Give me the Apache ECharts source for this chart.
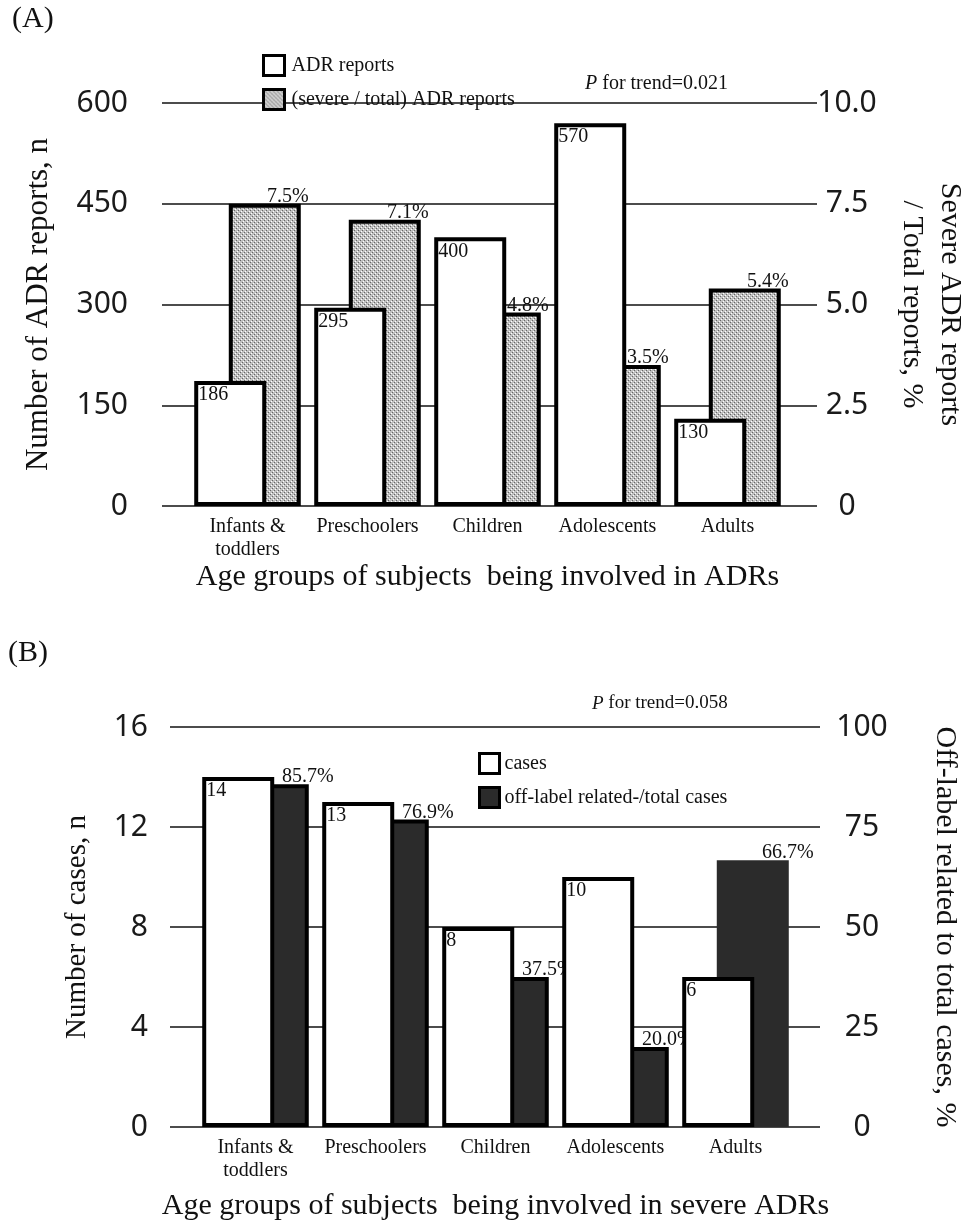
<!DOCTYPE html>
<html>
<head>
<meta charset="utf-8">
<script src="https://cdn.jsdelivr.net/npm/echarts@6/dist/echarts.min.js"></script>
<style>
html,body{margin:0;padding:0;background:#fff;}
#chart{width:977px;height:1228px;}
</style>
</head>
<body>
<div id="chart"></div>
<script>
// ---- data ----
const categories = ['Infants &\ntoddlers', 'Preschoolers', 'Children', 'Adolescents', 'Adults'];
const adrReports = [186, 295, 400, 570, 130];          // panel A, left axis (n)
const severeShare = [7.5, 7.1, 4.8, 3.5, 5.4];         // panel A, right axis (%)
const severeCases = [14, 13, 8, 10, 6];                // panel B, left axis (n)
const offLabelShare = [85.7, 76.9, 37.5, 20.0, 66.7];  // panel B, right axis (%)
const ticksALeft = [0, 150, 300, 450, 600];
const ticksARight = [0, 2.5, 5.0, 7.5, 10.0];
const ticksBLeft = [0, 4, 8, 12, 16];
const ticksBRight = [0, 25, 50, 75, 100];

const SERIF = '"Liberation Serif", "Times New Roman", serif';
const SANS = '"Noto Sans", sans-serif';

// hatched fill pattern
function makePattern() {
  const c = document.createElement('canvas');
  c.width = 4; c.height = 4;
  const g = c.getContext('2d');
  g.fillStyle = '#c0c0c0'; g.fillRect(0, 0, 4, 4);
  g.fillStyle = '#666666'; g.fillRect(0, 0, 1, 1); g.fillRect(2, 2, 1, 1);
  g.fillStyle = '#ffffff'; g.fillRect(1, 3, 1, 1); g.fillRect(3, 1, 1, 1);
  return { image: c, repeat: 'repeat' };
}
const hatch = makePattern();

function fmtRight(v) { return v === 0 ? '0' : v.toFixed(1); }

const chart = echarts.init(document.getElementById('chart'), null, { renderer: 'canvas' });

const gridLine = { show: true, lineStyle: { color: '#111', width: 1.5 } };
const tickLabel = { fontFamily: SANS, fontSize: 30, color: '#1a1a1a' };

const option = {
  backgroundColor: '#fff',
  animation: false,
  grid: [
    { left: 162, width: 656, top: 103, height: 403 },   // A frame
    { left: 187.5, width: 600, top: 103, height: 403 }, // A bars
    { left: 170, width: 650, top: 727, height: 400 },   // B frame
    { left: 195.5, width: 600, top: 727, height: 400 }  // B bars
  ],
  xAxis: [
    { gridIndex: 0, type: 'value', show: false, min: 0, max: 1 },
    {
      gridIndex: 1, type: 'category', data: categories,
      axisLine: { show: false }, axisTick: { show: false },
      axisLabel: { interval: 0, fontFamily: SERIF, fontSize: 20, lineHeight: 23, color: '#111', margin: 9 },
      name: 'Age groups of subjects  being involved in ADRs',
      nameLocation: 'middle', nameGap: 52,
      nameTextStyle: { fontFamily: SERIF, fontSize: 30, color: '#111' }
    },
    { gridIndex: 2, type: 'value', show: false, min: 0, max: 1 },
    {
      gridIndex: 3, type: 'category', data: categories,
      axisLine: { show: false }, axisTick: { show: false },
      axisLabel: { interval: 0, fontFamily: SERIF, fontSize: 20, lineHeight: 23, color: '#111', margin: 9 },
      name: 'Age groups of subjects  being involved in severe ADRs',
      nameLocation: 'middle', nameGap: 64,
      nameTextStyle: { fontFamily: SERIF, fontSize: 30, color: '#111' }
    }
  ],
  yAxis: [
    {
      gridIndex: 0, type: 'value', position: 'left',
      min: ticksALeft[0], max: ticksALeft[ticksALeft.length - 1], interval: ticksALeft[1] - ticksALeft[0],
      axisLine: { show: false }, axisTick: { show: false },
      axisLabel: Object.assign({ margin: 34 }, tickLabel),
      splitLine: gridLine,
      name: 'Number of ADR reports, n', nameLocation: 'middle', nameGap: 108, nameRotate: 90,
      nameTextStyle: { fontFamily: SERIF, fontSize: 31, color: '#111' }
    },
    {
      gridIndex: 0, type: 'value', position: 'right',
      min: ticksARight[0], max: ticksARight[ticksARight.length - 1], interval: ticksARight[1] - ticksARight[0],
      axisLine: { show: false }, axisTick: { show: false },
      axisLabel: Object.assign({ margin: 30, align: 'center', formatter: fmtRight }, tickLabel),
      splitLine: { show: false },
      name: 'Severe ADR reports\n/ Total reports, %', nameLocation: 'middle', nameGap: 76, nameRotate: -90,
      nameTextStyle: { fontFamily: SERIF, fontSize: 30, lineHeight: 38, color: '#111', align: 'center' }
    },
    { gridIndex: 1, type: 'value', show: false, min: ticksALeft[0], max: ticksALeft[ticksALeft.length - 1] },
    { gridIndex: 1, type: 'value', show: false, min: ticksARight[0], max: ticksARight[ticksARight.length - 1] },
    {
      gridIndex: 2, type: 'value', position: 'left',
      min: ticksBLeft[0], max: ticksBLeft[ticksBLeft.length - 1], interval: ticksBLeft[1] - ticksBLeft[0],
      axisLine: { show: false }, axisTick: { show: false },
      axisLabel: Object.assign({ margin: 22 }, tickLabel),
      splitLine: gridLine,
      name: 'Number of cases, n', nameLocation: 'middle', nameGap: 78, nameRotate: 90,
      nameTextStyle: { fontFamily: SERIF, fontSize: 29, color: '#111' }
    },
    {
      gridIndex: 2, type: 'value', position: 'right',
      min: ticksBRight[0], max: ticksBRight[ticksBRight.length - 1], interval: ticksBRight[1] - ticksBRight[0],
      axisLine: { show: false }, axisTick: { show: false },
      axisLabel: Object.assign({ margin: 42, align: 'center' }, tickLabel),
      splitLine: { show: false },
      name: 'Off-label related to total cases, %', nameLocation: 'middle', nameGap: 110, nameRotate: -90,
      nameTextStyle: { fontFamily: SERIF, fontSize: 30, color: '#111' }
    },
    { gridIndex: 3, type: 'value', show: false, min: ticksBLeft[0], max: ticksBLeft[ticksBLeft.length - 1] },
    { gridIndex: 3, type: 'value', show: false, min: ticksBRight[0], max: ticksBRight[ticksBRight.length - 1] }
  ],
  legend: [
    {
      left: 262, top: 54, orient: 'vertical', padding: 0, itemGap: 11,
      itemWidth: 21, itemHeight: 20, icon: 'rect',
      data: ['ADR reports', '(severe / total) ADR reports'],
      itemStyle: { borderColor: '#000', borderWidth: 3 },
      textStyle: { fontFamily: SERIF, fontSize: 20, color: '#111', padding: [0, 0, 0, 2] }
    },
    {
      left: 478, top: 752, orient: 'vertical', padding: 0, itemGap: 11,
      itemWidth: 20, itemHeight: 20, icon: 'rect',
      data: ['cases', 'off-label related-/total cases'],
      itemStyle: { borderColor: '#000', borderWidth: 3 },
      textStyle: { fontFamily: SERIF, fontSize: 20, color: '#111', padding: [0, 0, 0, 0] }
    }
  ],
  graphic: [
    { type: 'text', left: 12, top: 4, style: { text: '(A)', font: '30px ' + SERIF, fill: '#111' } },
    { type: 'text', left: 8, top: 638, style: { text: '(B)', font: '30px ' + SERIF, fill: '#111' } },
    {
      type: 'text', left: 585, top: 74,
      style: {
        text: '{i|P} for trend=0.021', fill: '#111', font: '20px ' + SERIF,
        rich: { i: { fontStyle: 'italic', fontFamily: SERIF, fontSize: 20 } }
      }
    },
    {
      type: 'text', left: 592, top: 694,
      style: {
        text: '{i|P} for trend=0.058', fill: '#111', font: '19px ' + SERIF,
        rich: { i: { fontStyle: 'italic', fontFamily: SERIF, fontSize: 19 } }
      }
    }
  ],
  series: [
    {
      name: 'ADR reports', type: 'bar', xAxisIndex: 1, yAxisIndex: 2, z: 3,
      data: adrReports, barWidth: 72, barGap: '-52%',
      itemStyle: { color: '#fff', borderColor: '#000', borderWidth: 4 },
      label: { show: true, position: 'insideTopLeft', distance: 4, fontFamily: SERIF, fontSize: 20, color: '#111' }
    },
    {
      name: '(severe / total) ADR reports', type: 'bar', xAxisIndex: 1, yAxisIndex: 3, z: 2,
      data: severeShare, barWidth: 72, barGap: '-52%',
      itemStyle: { color: hatch, borderColor: '#000', borderWidth: 4 },
      label: {
        show: true, position: ['100%', 0], align: 'right', verticalAlign: 'bottom', offset: [8, 3],
        formatter: p => p.value.toFixed(1) + '%', fontFamily: SERIF, fontSize: 20, color: '#111'
      }
    },
    {
      name: 'cases', type: 'bar', xAxisIndex: 3, yAxisIndex: 6, z: 3,
      data: severeCases, barWidth: 72, barGap: '-52%',
      itemStyle: { color: '#fff', borderColor: '#000', borderWidth: 4 },
      label: { show: true, position: 'insideTopLeft', distance: 4, fontFamily: SERIF, fontSize: 20, color: '#111' }
    },
    {
      name: 'off-label related-/total cases', type: 'bar', xAxisIndex: 3, yAxisIndex: 7, z: 2,
      data: offLabelShare.map((v, i) => i === offLabelShare.length - 1 ? { value: v, itemStyle: { borderWidth: 0 } } : v),
      barWidth: 72, barGap: '-52%',
      itemStyle: { color: '#2b2b2b', borderColor: '#000', borderWidth: 4 },
      label: {
        show: true, position: ['100%', 0], align: 'right', verticalAlign: 'bottom', offset: [25, 3],
        formatter: p => p.value.toFixed(1) + '%', fontFamily: SERIF, fontSize: 20, color: '#111'
      }
    }
  ]
};
chart.setOption(option);
</script>
</body>
</html>
